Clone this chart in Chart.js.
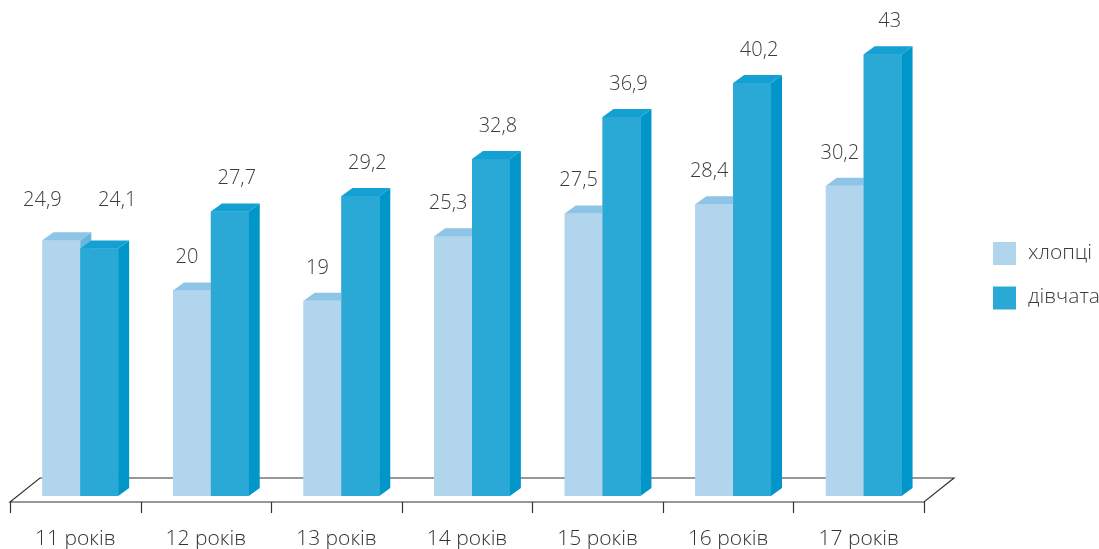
<!DOCTYPE html>
<html>
<head>
<meta charset="utf-8">
<script src="https://cdn.jsdelivr.net/npm/chart.js@4.4.1/dist/chart.umd.min.js"></script>
<style>
  html, body { margin: 0; padding: 0; background: #fff; }
  #wrap { width: 1099px; height: 549px; }
</style>
</head>
<body>
<div id="wrap"><canvas id="ageChart"></canvas></div>
<script>
"use strict";

var categories = ["11 років", "12 років", "13 років", "14 років", "15 років", "16 років", "17 років"];
var boys = [24.9, 20, 19, 25.3, 27.5, 28.4, 30.2];
var girls = [24.1, 27.7, 29.2, 32.8, 36.9, 40.2, 43];
var seriesNames = ["хлопці", "дівчата"];

var FONT = "'Open Sans', 'Noto Sans', sans-serif";
var faces = [
    { front: "#b1d5ec", top: "#8ec5e7", side: "#6ab6dd", labelShift: -5 },
    { front: "#2aa9d6", top: "#15a0d3", side: "#0096c9", labelShift: 7 }
];
var depth = { dx: 11, dy: -8 };
var floorDepth = { dx: 30, dy: -24, front: 6 };

function fmt(v) {
    return String(v).replace(".", ",");
}

var bars3d = {
    id: "bars3d",
    beforeDatasetsDraw: function(chart) {
        var c = chart.ctx, a = chart.chartArea, y0 = chart.scales.y.getPixelForValue(0);
        var fy = y0 + floorDepth.front, fx = -floorDepth.front * floorDepth.dx / -floorDepth.dy;
        var step = (a.right - a.left) / categories.length;
        var x1 = a.left + fx + 2.5, x2 = x1 + step * categories.length;
        c.save();
        c.strokeStyle = "#333";
        c.lineWidth = 1.2;
        c.beginPath();
        c.moveTo(x1, fy);
        c.lineTo(x1 + floorDepth.dx, fy + floorDepth.dy);
        c.lineTo(x2 + floorDepth.dx, fy + floorDepth.dy);
        c.lineTo(x2, fy);
        c.closePath();
        c.fillStyle = "#fff";
        c.fill();
        c.stroke();
        for (var i = 0; i <= categories.length; i++) {
            var tx = Math.round(x1 + step * i) + 0.5;
            c.beginPath();
            c.moveTo(tx, fy);
            c.lineTo(tx, fy + 11);
            c.stroke();
        }
        c.fillStyle = "#333";
        c.font = "300 21px " + FONT;
        c.textAlign = "center";
        c.textBaseline = "middle";
        categories.forEach(function(t, i) {
            c.fillText(t, x1 + step * (i + 0.5), fy + 37);
        });
        c.restore();
    },
    afterDatasetsDraw: function(chart) {
        var c = chart.ctx, metas = [chart.getDatasetMeta(0), chart.getDatasetMeta(1)];
        var labels = [];
        c.save();
        categories.forEach(function(cat, i) {
            metas.forEach(function(m, d) {
                var b = m.data[i], f = faces[d];
                var l = b.x - b.width / 2, r = b.x + b.width / 2, t = b.y, bt = b.base;
                c.fillStyle = f.front;
                c.fillRect(l, t, r - l, bt - t);
                c.fillStyle = f.side;
                c.beginPath();
                c.moveTo(r, t);
                c.lineTo(r + depth.dx, t + depth.dy);
                c.lineTo(r + depth.dx, bt + depth.dy);
                c.lineTo(r, bt);
                c.closePath();
                c.fill();
                c.fillStyle = f.top;
                c.beginPath();
                c.moveTo(l, t);
                c.lineTo(l + depth.dx, t + depth.dy);
                c.lineTo(r + depth.dx, t + depth.dy);
                c.lineTo(r, t);
                c.closePath();
                c.fill();
                labels.push({ x: b.x + f.labelShift, y: t - 33, v: chart.data.datasets[d].data[i] });
            });
        });
        // spread apart the two labels of a group when they sit at nearly the same height
        for (var k = 0; k < labels.length; k += 2) {
            var p = labels[k], q = labels[k + 1];
            if (Math.abs(p.y - q.y) < 24) {
                p.x -= 14; q.x += 11;
                p.y = q.y = Math.min(p.y, q.y) - 7;
            }
        }
        c.fillStyle = "#3c3c3c";
        c.font = "300 20px " + FONT;
        c.textAlign = "center";
        c.textBaseline = "middle";
        labels.forEach(function(o) { c.fillText(fmt(o.v), o.x, o.y); });

        // legend
        c.font = "300 21px " + FONT;
        c.textAlign = "left";
        seriesNames.forEach(function(n, d) {
            var ly = 242 + d * 44.5;
            c.fillStyle = faces[d].front;
            c.fillRect(993, ly, 23, 23);
            c.fillStyle = "#3c3c3c";
            c.fillText(n, 1028, ly + 11);
        });
        c.restore();
    }
};

new Chart(document.getElementById("ageChart"), {
    type: "bar",
    data: {
        labels: categories,
        datasets: [
            { label: seriesNames[0], data: boys, backgroundColor: faces[0].front },
            { label: seriesNames[1], data: girls, backgroundColor: faces[1].front }
        ]
    },
    options: {
        responsive: true,
        maintainAspectRatio: false,
        animation: false,
        events: [],
        layout: { padding: { left: 15, right: 170, top: 3, bottom: 53 } },
        datasets: { bar: { categoryPercentage: 0.58, barPercentage: 1 } },
        plugins: { legend: { display: false }, tooltip: { enabled: false } },
        scales: {
            x: { display: false },
            y: { display: false, min: 0, max: 48 }
        }
    },
    plugins: [bars3d]
});
</script>
</body>
</html>
